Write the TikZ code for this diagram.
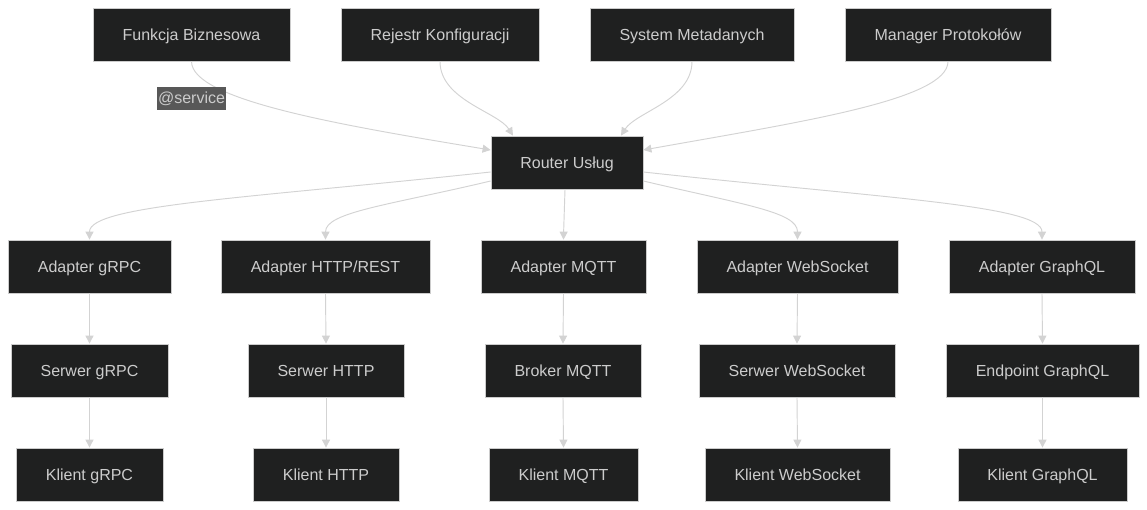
\documentclass[tikz,border=0pt]{standalone}
\usepackage{fontspec}
\setmainfont{Liberation Sans}
\usetikzlibrary{arrows.meta,calc}
\definecolor{nodefill}{HTML}{1F2020}
\definecolor{nodeline}{HTML}{CCCCCC}
\definecolor{nodetext}{HTML}{CCCCCC}
\definecolor{edgecol}{HTML}{D3D3D3}
\definecolor{lblfill}{HTML}{585858}
\tikzset{
  box/.style={draw=nodeline, line width=0.6pt, fill=nodefill, text=nodetext,
    font=\fontsize{12}{14}\selectfont, minimum height=53*0.75pt, inner sep=0pt,
    text height=10.2pt, text depth=1.2pt,
    minimum width=#1*0.75pt},
  edge/.style={draw=edgecol, line width=0.7pt, -{Triangle[length=6pt,width=6pt]}},
  lbl/.style={fill=lblfill, text=nodetext, font=\fontsize{12}{14}\selectfont,
    inner xsep=0.6pt, inner ysep=3pt, text height=9.4pt, text depth=2pt}
}
\begin{document}
\begin{tikzpicture}[x=0.75pt,y=-0.75pt]
\useasboundingbox[fill=white] (0,0) rectangle (1147,510);
% top row
\node[box=197] (f) at (191.5,34.5) {Funkcja Biznesowa};
\node[box=198] (k) at (440,34.5) {Rejestr Konfiguracji};
\node[box=204] (m) at (692,34.5) {System Metadanych};
\node[box=206] (p) at (948,34.5) {Manager Protokołów};
% router
\node[box=152] (r) at (567,162.5) {Router Usług};
% adapters
\node[box=163] (a1) at (89.5,266.5) {Adapter gRPC};
\node[box=209] (a2) at (325.5,266.5) {Adapter HTTP/REST};
\node[box=165] (a3) at (563.5,266.5) {Adapter MQTT};
\node[box=201] (a4) at (797.5,266.5) {Adapter WebSocket};
\node[box=186] (a5) at (1042,266.5) {Adapter GraphQL};
% servers
\node[box=157] (s1) at (89.5,370.5) {Serwer gRPC};
\node[box=156] (s2) at (326,370.5) {Serwer HTTP};
\node[box=156] (s3) at (563,370.5) {Broker MQTT};
\node[box=196] (s4) at (797,370.5) {Serwer WebSocket};
\node[box=193] (s5) at (1042.5,370.5) {Endpoint GraphQL};
% clients
\node[box=147] (c1) at (89.5,474.5) {Klient gRPC};
\node[box=146] (c2) at (326,474.5) {Klient HTTP};
\node[box=149] (c3) at (563.5,474.5) {Klient MQTT};
\node[box=185] (c4) at (797.5,474.5) {Klient WebSocket};
\node[box=169] (c5) at (1042.5,474.5) {Klient GraphQL};
% top -> router
\coordinate (rw1) at ($(r.west)+(0,-12.5)$);
\coordinate (re1) at ($(r.east)+(0,-12.5)$);
\coordinate (rn1) at ($(r.north)+(-54,0)$);
\coordinate (rn2) at ($(r.north)+(54,0)$);
\draw[edge] (f.south) .. controls (191.5,100) and (340,125) .. (rw1);
\draw[edge] (k.south) .. controls (440,100) and (498,112) .. (rn1);
\draw[edge] (m.south) .. controls (692,100) and (636,112) .. (rn2);
\draw[edge] (p.south) .. controls (948,100) and (800,122) .. (re1);
\node[lbl] (l1) at (191.5,98.5) {@service};
% router -> adapters
\coordinate (rl1) at ($(r.west)+(0,9.5)$);
\coordinate (rl2) at ($(r.west)+(0,18.5)$);
\coordinate (rr1) at ($(r.east)+(0,9.5)$);
\coordinate (rr2) at ($(r.east)+(0,18.5)$);
\coordinate (rs) at ($(r.south)+(-2,0)$);
\draw[edge] (rl1) .. controls (250,198) and (89.5,205) .. (a1.north);
\draw[edge] (rl2) .. controls (390,205) and (325.5,212) .. (a2.north);
\draw[edge] (rs) .. controls (564,210) .. (a3.north);
\draw[edge] (rr2) .. controls (745,205) and (797.5,212) .. (a4.north);
\draw[edge] (rr1) .. controls (880,198) and (1042,205) .. (a5.north);
% verticals
\foreach \i in {1,...,5}{
  \draw[edge] (a\i.south) -- (s\i.north);
  \draw[edge] (s\i.south) -- (c\i.north);
}
\end{tikzpicture}
\end{document}
